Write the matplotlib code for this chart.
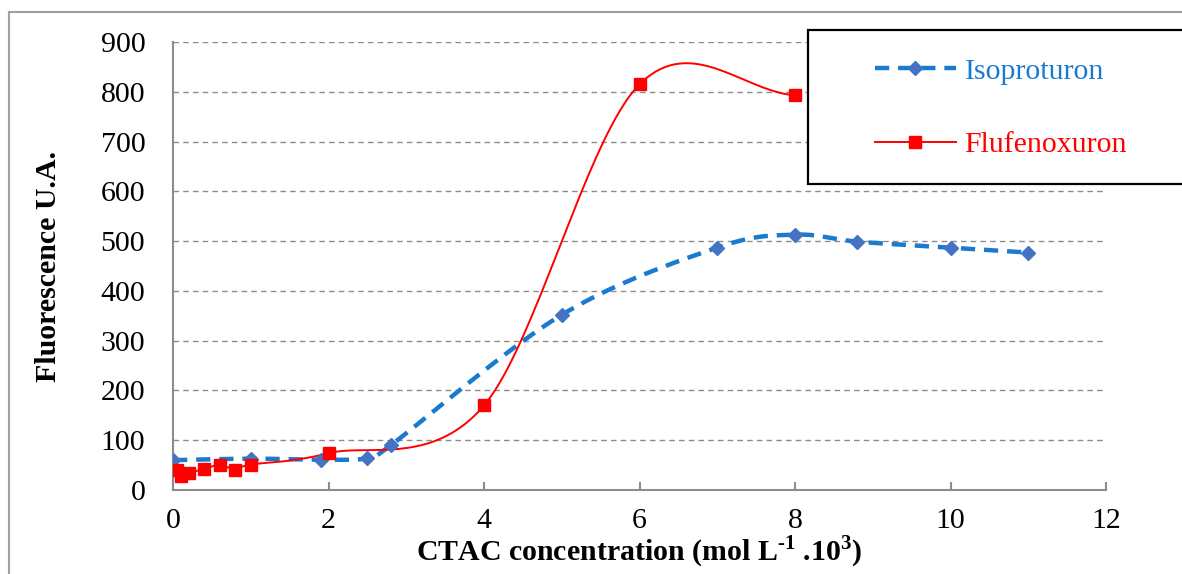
import matplotlib
matplotlib.use("Agg")
import matplotlib.pyplot as plt
from matplotlib.lines import Line2D
import numpy as np

plt.rcParams["font.family"] = ["Liberation Serif", "DejaVu Serif"]
plt.rcParams["mathtext.fontset"] = "custom"
plt.rcParams["mathtext.rm"] = "Liberation Serif:bold"
plt.rcParams["mathtext.bf"] = "Liberation Serif:bold"

# ---- data ----
iso_x = [0, 1, 1.9, 2.5, 2.8, 5, 7, 8, 8.8, 10, 11]
iso_y = [60, 63, 61, 64, 90, 352, 487, 513, 499, 487, 477]
flu_x = [0.05, 0.1, 0.2, 0.4, 0.6, 0.8, 1.0, 2, 4, 6, 8]
flu_y = [40, 28, 34, 42, 51, 41, 51, 74, 170, 815, 793]
x_ticks = [0, 2, 4, 6, 8, 10, 12]
y_ticks = [0, 100, 200, 300, 400, 500, 600, 700, 800, 900]

BLUE_LINE = "#1a7ad0"
BLUE_MARK = "#4472c4"
RED = "#ff0000"
GREY = "#8c8c8c"
FS = 21.5


def smooth(x, y, n=40):
    """Excel-like smoothed line: cubic Bezier with Catmull-Rom control points."""
    p = np.column_stack([x, y]).astype(float)
    k = len(p)
    m = np.zeros_like(p)
    m[1:-1] = (p[2:] - p[:-2]) / 2
    m[0] = p[1] - p[0]
    m[-1] = p[-1] - p[-2]
    t = np.linspace(0, 1, n)[:, None]
    segs = []
    for i in range(k - 1):
        p0, p3 = p[i], p[i + 1]
        p1, p2 = p0 + m[i] / 3, p3 - m[i + 1] / 3
        b = ((1 - t) ** 3) * p0 + 3 * ((1 - t) ** 2) * t * p1 \
            + 3 * (1 - t) * t ** 2 * p2 + t ** 3 * p3
        segs.append(b if i == 0 else b[1:])
    out = np.vstack(segs)
    return out[:, 0], out[:, 1]


fig = plt.figure(figsize=(11.82, 5.74), dpi=100)
ax = fig.add_axes([0.1464, 0.1463, 0.9357 - 0.1464, 0.9268 - 0.1463])

# outer frame (left and top edges visible)
fig.add_artist(Line2D([0.0076, 0.0076], [-0.01, 0.979], transform=fig.transFigure,
                      color="#a0a0a0", lw=1.5))
fig.add_artist(Line2D([0.0076, 1.01], [0.979, 0.979], transform=fig.transFigure,
                      color="#a0a0a0", lw=1.5))

# ---- series ----
sx, sy = smooth(iso_x, iso_y)
ax.plot(sx, sy, color=BLUE_LINE, lw=3.2, linestyle=(0, (3.2, 2.0)), zorder=3)
ax.plot(iso_x, iso_y, linestyle="none", marker="D", ms=7.5, color=BLUE_MARK,
        mec=BLUE_MARK, zorder=4)

fx, fy = smooth(flu_x, flu_y)
ax.plot(fx, fy, color=RED, lw=1.4, zorder=3)
ax.plot(flu_x, flu_y, linestyle="none", marker="s", ms=9, color=RED, zorder=4)

# ---- axes styling ----
ax.set_xlim(0, 12)
ax.set_ylim(0, 900)
ax.set_xticks(x_ticks)
ax.set_yticks(y_ticks)
for s in ["top", "right"]:
    ax.spines[s].set_visible(False)
for s in ["left", "bottom"]:
    ax.spines[s].set_color(GREY)
    ax.spines[s].set_linewidth(1.5)
ax.yaxis.grid(True, color=GREY, linestyle=(0, (4, 3)), lw=1.0)
ax.set_axisbelow(True)
ax.tick_params(axis="x", direction="in", length=6, width=1.5, color=GREY,
               labelsize=FS, pad=13)
ax.tick_params(axis="y", length=0, labelsize=FS, pad=20)

ax.set_xlabel("CTAC concentration (mol L$^{\\text{-1}}$ .10$^{\\text{3}}$)",
              fontsize=FS, fontweight="bold", labelpad=0)
ax.set_ylabel("Fluorescence U.A.", fontsize=FS, fontweight="bold", labelpad=28)

# ---- legend box (extends past the right edge) ----
fig.add_artist(plt.Rectangle((808 / 1182, 1 - 184 / 574), 0.5, 154 / 574,
                             transform=fig.transFigure, facecolor="white",
                             edgecolor="black", lw=1.6, zorder=5))
handles = [
    Line2D([], [], color=BLUE_LINE, lw=3.2, linestyle=(0, (3.2, 2.0)), marker="D",
           ms=7.5, mfc=BLUE_MARK, mec=BLUE_MARK),
    Line2D([], [], color=RED, lw=1.4, marker="s", ms=9),
]
leg = fig.legend(handles, ["Isoproturon", "Flufenoxuron"], loc="upper left",
                 bbox_to_anchor=(860 / 1182, 1 - 43 / 574), frameon=False,
                 fontsize=FS, handlelength=2.7, handletextpad=0.3,
                 labelspacing=1.55, borderpad=0)
leg.set_zorder(6)
for txt, c in zip(leg.get_texts(), [BLUE_LINE, RED]):
    txt.set_color(c)

fig.savefig("out.png", dpi=100)
